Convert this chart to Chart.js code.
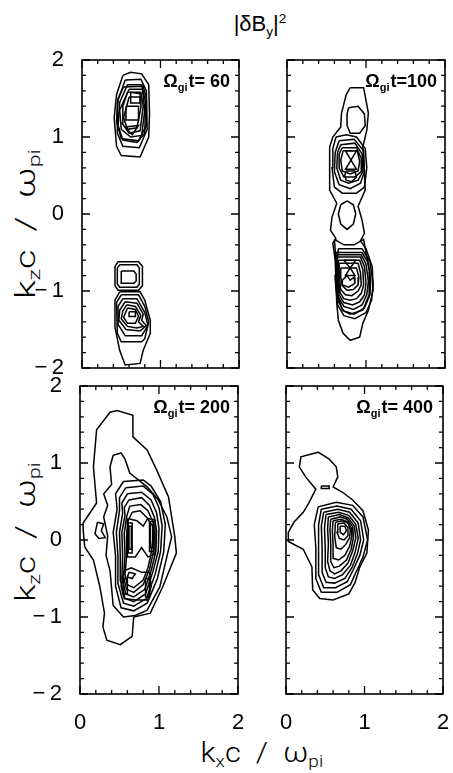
<!DOCTYPE html>
<html>
<head>
<meta charset="utf-8">
<script src="https://cdn.jsdelivr.net/npm/chart.js@4"></script>
<style>
  body { margin: 0; background: #fff; width: 453px; height: 773px; position: relative; overflow: hidden; font-family: "Liberation Sans", Arial, sans-serif; color: #000; }
  canvas { position: absolute; }
  .t { position: absolute; white-space: nowrap; line-height: 1; }
  .sub { font-size: 0.62em; vertical-align: -0.32em; }
  .sup { font-size: 0.62em; vertical-align: 0.62em; }
  .axt { font-size: 27px; font-family: Roboto, "Liberation Sans", sans-serif; font-weight: 300; }
</style>
</head>
<body>
<div class="t" style="left:260px;top:25px;transform:translate(-50%,-50%);font-size:22px">|δB<span class="sub">y</span>|<span class="sup">2</span></div>
<div class="t axt" data-cx="28" data-cy="224" data-len="150" data-rot="1">k<span class="sub">z</span>c&nbsp;&nbsp;/&nbsp;&nbsp;ω<span class="sub">pi</span></div>
<div class="t axt" data-cx="28" data-cy="532" data-len="140" data-rot="1">k<span class="sub">z</span>c&nbsp;&nbsp;/&nbsp;&nbsp;ω<span class="sub">pi</span></div>
<div class="t axt" data-cx="262" data-cy="755" data-len="123" data-rot="0">k<span class="sub">x</span>c&nbsp;&nbsp;/&nbsp;&nbsp;ω<span class="sub">pi</span></div>

<canvas id="p60"></canvas>
<canvas id="p100"></canvas>
<canvas id="p200"></canvas>
<canvas id="p400"></canvas>

<script>
// axis ticks (k c / omega_pi)
const xMajorTicks = [0, 1, 2];
const yMajorTicks = [-2, -1, 0, 1, 2];
const xMinorTicks = [0.2, 0.4, 0.6, 0.8, 1.2, 1.4, 1.6, 1.8];
const yMinorTicks = [-1.8, -1.6, -1.4, -1.2, -0.8, -0.6, -0.4, -0.2, 0.2, 0.4, 0.6, 0.8, 1.2, 1.4, 1.6, 1.8];

const panelTimes = ['= 60', '=100', '= 200', '= 400'];

// contour lines of |dBy|^2, [kx, kz] per vertex
const contours60 = [
  [[0.52,1.80],[0.62,1.84],[0.76,1.82],[0.85,1.68],[0.86,1.30],[0.85,1.0],[0.74,0.74],[0.50,0.76],[0.44,0.88],[0.41,1.25],[0.44,1.55],[0.52,1.80]],
  [[0.55,1.74],[0.75,1.75],[0.82,1.60],[0.83,1.10],[0.73,0.86],[0.52,0.88],[0.45,1.05],[0.45,1.45],[0.55,1.74]],
  [[0.53,1.65],[0.78,1.66],[0.82,1.50],[0.82,1.15],[0.72,0.95],[0.50,0.98],[0.44,1.20],[0.46,1.50],[0.53,1.65]],
  [[0.58,1.68],[0.76,1.68],[0.81,1.45],[0.80,1.05],[0.70,0.93],[0.52,0.96],[0.46,1.15],[0.48,1.45],[0.58,1.68]],
  [[0.60,1.62],[0.77,1.62],[0.80,1.35],[0.76,1.02],[0.62,1.00],[0.50,1.10],[0.48,1.35],[0.60,1.62]],
  [[0.58,1.58],[0.75,1.58],[0.78,1.40],[0.74,1.08],[0.60,1.05],[0.51,1.18],[0.52,1.40],[0.58,1.58]],
  [[0.60,1.52],[0.74,1.52],[0.75,1.38],[0.70,1.12],[0.58,1.10],[0.53,1.25],[0.60,1.52]],
  [[0.62,1.58],[0.74,1.56],[0.74,1.44],[0.62,1.44],[0.62,1.58]],
  [[0.56,1.40],[0.72,1.40],[0.72,1.22],[0.56,1.22],[0.56,1.40]],
  [[0.55,1.13],[0.72,1.15],[0.64,1.03],[0.55,1.13]],
  [[0.46,-0.62],[0.72,-0.62],[0.77,-0.68],[0.77,-0.93],[0.72,-0.99],[0.46,-0.99],[0.42,-0.93],[0.42,-0.68],[0.46,-0.62]],
  [[0.48,-0.66],[0.70,-0.66],[0.73,-0.70],[0.73,-0.91],[0.70,-0.95],[0.48,-0.95],[0.45,-0.91],[0.45,-0.70],[0.48,-0.66]],
  [[0.50,-0.74],[0.66,-0.74],[0.69,-0.78],[0.69,-0.87],[0.66,-0.90],[0.50,-0.90],[0.50,-0.74]],
  [[0.48,-1.01],[0.74,-1.01],[0.80,-1.12],[0.87,-1.38],[0.87,-1.55],[0.78,-1.77],[0.74,-1.94],[0.55,-1.96],[0.48,-1.77],[0.42,-1.47],[0.42,-1.12],[0.48,-1.01]],
  [[0.50,-1.05],[0.72,-1.05],[0.80,-1.20],[0.85,-1.40],[0.80,-1.62],[0.76,-1.66],[0.50,-1.66],[0.45,-1.55],[0.44,-1.15],[0.50,-1.05]],
  [[0.52,-1.10],[0.70,-1.10],[0.80,-1.28],[0.84,-1.45],[0.76,-1.58],[0.55,-1.58],[0.47,-1.45],[0.46,-1.20],[0.52,-1.10]],
  [[0.55,-1.14],[0.70,-1.16],[0.78,-1.30],[0.76,-1.38],[0.82,-1.45],[0.74,-1.52],[0.56,-1.50],[0.47,-1.38],[0.48,-1.25],[0.55,-1.14]],
  [[0.57,-1.18],[0.68,-1.20],[0.75,-1.32],[0.72,-1.40],[0.78,-1.46],[0.70,-1.48],[0.58,-1.46],[0.50,-1.36],[0.52,-1.26],[0.57,-1.18]],
  [[0.58,-1.22],[0.68,-1.24],[0.72,-1.33],[0.68,-1.42],[0.58,-1.42],[0.53,-1.34],[0.58,-1.22]],
  [[0.60,-1.27],[0.68,-1.27],[0.68,-1.33],[0.60,-1.33],[0.60,-1.27]]
];

const contours100 = [
  [[0.80,1.64],[0.97,1.64],[1.03,1.31],[1.01,1.09],[0.96,0.87],[0.98,0.55],[0.99,0.31],[0.90,0.10],[0.95,-0.08],[0.98,-0.25],[0.93,-0.35],[1.00,-0.45],[1.08,-0.69],[1.09,-0.99],[1.03,-1.25],[0.96,-1.42],[0.92,-1.60],[0.80,-1.64],[0.71,-1.55],[0.65,-1.38],[0.63,-1.16],[0.61,-0.60],[0.58,-0.38],[0.62,-0.32],[0.55,-0.21],[0.57,-0.04],[0.63,0.14],[0.54,0.31],[0.54,0.87],[0.58,1.00],[0.68,1.13],[0.69,1.31],[0.75,1.55],[0.80,1.64]],
  [[0.78,1.38],[0.90,1.40],[0.98,1.30],[0.99,1.15],[0.92,1.05],[0.80,1.05],[0.76,1.15],[0.76,1.30],[0.78,1.38]],
  [[0.62,1.00],[0.75,1.03],[0.88,1.00],[0.99,0.85],[1.01,0.60],[0.98,0.35],[0.88,0.27],[0.70,0.27],[0.60,0.35],[0.57,0.60],[0.58,0.85],[0.62,1.00]],
  [[0.66,0.95],[0.85,0.97],[0.97,0.82],[0.98,0.55],[0.93,0.40],[0.80,0.33],[0.66,0.38],[0.60,0.55],[0.61,0.80],[0.66,0.95]],
  [[0.68,0.90],[0.86,0.92],[0.95,0.78],[0.96,0.55],[0.90,0.44],[0.78,0.40],[0.68,0.44],[0.63,0.60],[0.64,0.80],[0.68,0.90]],
  [[0.70,0.86],[0.88,0.86],[0.94,0.72],[0.94,0.55],[0.86,0.48],[0.72,0.48],[0.66,0.60],[0.66,0.78],[0.70,0.86]],
  [[0.71,0.82],[0.89,0.82],[0.92,0.68],[0.90,0.56],[0.80,0.52],[0.70,0.56],[0.68,0.70],[0.71,0.82]],
  [[0.74,0.82],[0.88,0.82],[0.81,0.70],[0.74,0.82]],
  [[0.81,0.70],[0.88,0.58],[0.74,0.58],[0.81,0.70]],
  [[0.75,0.56],[0.86,0.56],[0.88,0.48],[0.82,0.42],[0.75,0.44],[0.73,0.50],[0.75,0.56]],
  [[0.76,0.17],[0.84,0.12],[0.87,0.0],[0.84,-0.13],[0.76,-0.20],[0.68,-0.13],[0.65,0.0],[0.68,0.12],[0.76,0.17]],
  [[0.60,-0.33],[0.72,-0.40],[0.85,-0.40],[0.97,-0.33],[1.00,-0.50],[1.05,-0.75],[1.04,-1.05],[0.96,-1.25],[0.80,-1.30],[0.70,-1.25],[0.64,-1.05],[0.62,-0.60],[0.60,-0.33]],
  [[0.65,-0.45],[0.95,-0.45],[1.05,-0.62],[1.09,-0.90],[1.07,-1.12],[1.00,-1.28],[0.86,-1.36],[0.72,-1.32],[0.64,-1.18],[0.61,-0.85],[0.65,-0.45]],
  [[0.62,-0.50],[0.95,-0.50],[1.02,-0.62],[1.06,-0.85],[1.05,-1.05],[0.98,-1.22],[0.85,-1.30],[0.72,-1.26],[0.64,-1.12],[0.61,-0.80],[0.62,-0.50]],
  [[0.63,-0.53],[0.94,-0.53],[1.00,-0.65],[1.03,-0.88],[1.01,-1.05],[0.95,-1.18],[0.84,-1.24],[0.72,-1.20],[0.65,-1.08],[0.63,-0.80],[0.63,-0.53]],
  [[0.64,-0.56],[0.93,-0.56],[0.98,-0.68],[1.00,-0.90],[0.98,-1.05],[0.92,-1.14],[0.83,-1.18],[0.72,-1.15],[0.66,-1.05],[0.64,-0.80],[0.64,-0.56]],
  [[0.65,-0.60],[0.92,-0.60],[0.96,-0.72],[0.97,-0.92],[0.94,-1.03],[0.88,-1.10],[0.80,-1.12],[0.72,-1.10],[0.67,-1.02],[0.65,-0.80],[0.65,-0.60]],
  [[0.66,-0.64],[0.90,-0.64],[0.93,-0.76],[0.94,-0.92],[0.90,-1.00],[0.82,-1.06],[0.74,-1.05],[0.68,-0.98],[0.66,-0.80],[0.66,-0.64]],
  [[0.68,-0.70],[0.88,-0.70],[0.91,-0.82],[0.90,-0.92],[0.84,-0.98],[0.76,-0.99],[0.70,-0.93],[0.68,-0.82],[0.68,-0.70]],
  [[0.72,-0.60],[0.87,-0.60],[0.80,-0.70],[0.72,-0.60]],
  [[0.80,-0.70],[0.86,-0.80],[0.74,-0.80],[0.80,-0.70]],
  [[0.70,-0.86],[0.76,-0.80],[0.80,-0.86],[0.85,-0.82],[0.86,-0.90],[0.78,-0.95],[0.70,-0.92],[0.70,-0.86]]
];

const contours200 = [
  [[1.12,0.56],[1.20,0.04],[1.22,-0.17],[1.05,-0.60],[0.89,-0.95],[0.68,-1.00],[0.66,-1.25],[0.51,-1.36],[0.34,-1.30],[0.29,-1.13],[0.31,-0.95],[0.25,-0.60],[0.17,-0.26],[0.06,-0.09],[0.04,0.13],[0.04,0.22],[0.21,0.48],[0.17,0.95],[0.21,1.43],[0.38,1.66],[0.47,1.68],[0.67,1.62],[0.67,1.34],[0.85,1.17],[0.97,0.91],[1.12,0.56]],
  [[0.42,1.10],[0.52,1.13],[0.57,1.05],[0.63,0.87],[0.85,0.69],[0.99,0.52],[1.10,0.30],[1.16,0.04],[1.11,-0.17],[1.01,-0.61],[0.85,-0.91],[0.70,-0.98],[0.55,-1.00],[0.42,-0.85],[0.38,-0.40],[0.33,-0.20],[0.35,0.05],[0.30,0.30],[0.35,0.45],[0.30,0.60],[0.40,0.72],[0.38,0.95],[0.42,1.10]],
  [[0.22,0.23],[0.30,0.21],[0.27,0.12],[0.32,0.03],[0.24,0.02],[0.19,0.08],[0.22,0.23]],
  [[0.55,0.76],[0.80,0.78],[0.90,0.70],[1.02,0.50],[1.08,0.20],[1.06,-0.15],[0.98,-0.50],[0.85,-0.82],[0.68,-0.92],[0.52,-0.88],[0.45,-0.60],[0.45,-0.20],[0.42,0.10],[0.47,0.40],[0.45,0.60],[0.55,0.76]],
  [[0.58,0.68],[0.80,0.70],[0.92,0.60],[1.00,0.42],[1.04,0.18],[1.02,-0.15],[0.95,-0.45],[0.84,-0.76],[0.68,-0.86],[0.55,-0.82],[0.48,-0.56],[0.48,-0.20],[0.46,0.10],[0.50,0.38],[0.50,0.55],[0.58,0.68]],
  [[0.60,0.60],[0.78,0.62],[0.90,0.52],[0.97,0.35],[1.00,0.15],[0.99,-0.15],[0.92,-0.42],[0.83,-0.70],[0.68,-0.80],[0.57,-0.76],[0.51,-0.52],[0.51,-0.20],[0.50,0.10],[0.54,0.35],[0.53,0.48],[0.60,0.60]],
  [[0.62,0.52],[0.78,0.55],[0.88,0.45],[0.94,0.30],[0.97,0.12],[0.96,-0.15],[0.90,-0.40],[0.82,-0.64],[0.68,-0.74],[0.58,-0.70],[0.53,-0.50],[0.54,-0.20],[0.53,0.10],[0.57,0.32],[0.56,0.42],[0.62,0.52]],
  [[0.63,0.44],[0.77,0.46],[0.86,0.38],[0.93,0.22],[0.94,0.05],[0.93,-0.15],[0.88,-0.38],[0.80,-0.58],[0.68,-0.68],[0.59,-0.64],[0.55,-0.48],[0.57,-0.20],[0.56,0.08],[0.59,0.30],[0.63,0.44]],
  [[0.66,0.36],[0.76,0.38],[0.84,0.30],[0.92,0.18],[0.92,0.0],[0.90,-0.18],[0.86,-0.36],[0.80,-0.52],[0.68,-0.62],[0.60,-0.58],[0.57,-0.45],[0.59,-0.20],[0.59,0.05],[0.61,0.25],[0.66,0.36]],
  [[0.60,0.28],[0.72,0.25],[0.80,0.18],[0.86,0.28],[0.95,0.26],[0.95,-0.18],[0.86,-0.22],[0.78,-0.10],[0.70,-0.22],[0.60,-0.22],[0.60,0.28]],
  [[0.61,0.22],[0.66,0.22],[0.66,-0.17],[0.61,-0.17],[0.61,0.22]],
  [[0.62,0.18],[0.65,0.18],[0.65,-0.12],[0.62,-0.12],[0.62,0.18]],
  [[0.88,0.24],[0.93,0.24],[0.93,-0.15],[0.88,-0.15],[0.88,0.24]],
  [[0.89,0.20],[0.92,0.20],[0.92,-0.10],[0.89,-0.10],[0.89,0.20]],
  [[0.56,-0.40],[0.65,-0.36],[0.78,-0.42],[0.88,-0.42],[0.90,-0.60],[0.86,-0.78],[0.70,-0.78],[0.56,-0.76],[0.52,-0.60],[0.56,-0.40]],
  [[0.55,-0.50],[0.60,-0.50],[0.60,-0.70],[0.55,-0.70],[0.55,-0.50]],
  [[0.83,-0.50],[0.88,-0.50],[0.88,-0.74],[0.83,-0.74],[0.83,-0.50]],
  [[0.62,-0.42],[0.70,-0.44],[0.66,-0.50],[0.60,-0.48],[0.62,-0.42]]
];

const contours400 = [
  [[0.41,1.14],[0.55,1.05],[0.64,0.95],[0.66,0.82],[0.60,0.69],[0.72,0.62],[0.85,0.52],[0.98,0.38],[1.05,0.13],[1.03,-0.17],[0.94,-0.35],[0.88,-0.55],[0.80,-0.70],[0.60,-0.78],[0.43,-0.76],[0.34,-0.65],[0.33,-0.35],[0.22,-0.12],[0.03,-0.02],[0.03,0.10],[0.10,0.23],[0.22,0.36],[0.29,0.48],[0.38,0.66],[0.25,0.82],[0.17,0.95],[0.19,1.08],[0.41,1.14]],
  [[0.45,0.70],[0.55,0.70],[0.55,0.67],[0.45,0.67],[0.45,0.70]],
  [[0.41,0.43],[0.64,0.49],[0.85,0.45],[0.98,0.30],[1.04,0.0],[0.98,-0.22],[0.90,-0.40],[0.82,-0.58],[0.65,-0.68],[0.45,-0.68],[0.38,-0.50],[0.38,-0.10],[0.36,0.20],[0.41,0.43]],
  [[0.45,0.40],[0.65,0.44],[0.83,0.40],[0.95,0.25],[0.99,0.0],[0.94,-0.20],[0.86,-0.38],[0.78,-0.54],[0.63,-0.62],[0.48,-0.62],[0.42,-0.46],[0.42,-0.10],[0.41,0.20],[0.45,0.40]],
  [[0.48,0.36],[0.66,0.40],[0.81,0.36],[0.92,0.22],[0.95,0.0],[0.91,-0.18],[0.84,-0.36],[0.75,-0.50],[0.62,-0.56],[0.51,-0.55],[0.46,-0.42],[0.46,-0.10],[0.45,0.18],[0.48,0.36]],
  [[0.51,0.33],[0.67,0.36],[0.80,0.32],[0.89,0.20],[0.92,0.02],[0.88,-0.16],[0.82,-0.33],[0.72,-0.45],[0.62,-0.50],[0.54,-0.48],[0.50,-0.36],[0.50,-0.10],[0.49,0.16],[0.51,0.33]],
  [[0.54,0.30],[0.68,0.33],[0.79,0.29],[0.87,0.18],[0.89,0.03],[0.85,-0.14],[0.79,-0.30],[0.70,-0.40],[0.62,-0.44],[0.56,-0.40],[0.53,-0.28],[0.54,-0.05],[0.53,0.15],[0.54,0.30]],
  [[0.57,0.27],[0.69,0.30],[0.78,0.27],[0.85,0.17],[0.86,0.04],[0.83,-0.12],[0.77,-0.26],[0.68,-0.34],[0.61,-0.36],[0.57,-0.28],[0.57,-0.05],[0.56,0.14],[0.57,0.27]],
  [[0.60,0.25],[0.70,0.27],[0.78,0.24],[0.83,0.16],[0.84,0.05],[0.81,-0.08],[0.75,-0.20],[0.67,-0.26],[0.61,-0.24],[0.60,-0.05],[0.59,0.12],[0.60,0.25]],
  [[0.63,0.23],[0.72,0.25],[0.79,0.22],[0.82,0.13],[0.81,0.03],[0.76,-0.06],[0.70,-0.12],[0.64,-0.10],[0.62,0.05],[0.63,0.23]],
  [[0.66,0.21],[0.74,0.22],[0.79,0.16],[0.79,0.06],[0.74,0.0],[0.68,0.02],[0.65,0.10],[0.66,0.21]],
  [[0.69,0.18],[0.75,0.18],[0.77,0.12],[0.73,0.07],[0.69,0.10],[0.69,0.18]]
];

Chart.defaults.font.family = '"Liberation Sans", Arial, sans-serif';
Chart.defaults.color = '#000';

// stretch the axis titles to the width they have in the figure
document.querySelectorAll('.axt').forEach((el) => {
  const s = Number(el.dataset.len) / el.offsetWidth;
  el.style.left = (Number(el.dataset.cx) - el.offsetWidth / 2) + 'px';
  el.style.top = (Number(el.dataset.cy) - el.offsetHeight / 2) + 'px';
  el.style.transform = (el.dataset.rot === '1' ? 'rotate(-90deg) ' : '') + 'scaleX(' + s.toFixed(3) + ')';
});

const frameTicks = {
  id: 'frameTicks',
  afterDatasetsDraw(chart, args, options) {
    const { ctx, chartArea: { left, top, right, bottom }, scales: { x, y } } = chart;
    ctx.save();
    ctx.strokeStyle = '#000';
    ctx.lineWidth = 1.3;
    ctx.beginPath();
    const tickX = (v, len) => {
      const px = x.getPixelForValue(v);
      ctx.moveTo(px, bottom); ctx.lineTo(px, bottom - len);
      ctx.moveTo(px, top); ctx.lineTo(px, top + len);
    };
    const tickY = (v, len) => {
      const py = y.getPixelForValue(v);
      ctx.moveTo(left, py); ctx.lineTo(left + len, py);
      ctx.moveTo(right, py); ctx.lineTo(right - len, py);
    };
    xMajorTicks.forEach((v) => tickX(v, 8));
    xMinorTicks.forEach((v) => tickX(v, 4));
    yMajorTicks.forEach((v) => tickY(v, 8));
    yMinorTicks.forEach((v) => tickY(v, 4));
    ctx.stroke();
    ctx.lineWidth = 1.6;
    ctx.strokeRect(left, top, right - left, bottom - top);

    // panel label: Omega_gi t = ...
    const big = 'bold 18px "Liberation Sans", Arial, sans-serif';
    const small = 'bold 11px "Liberation Sans", Arial, sans-serif';
    ctx.fillStyle = '#000';
    ctx.font = big;
    const wO = ctx.measureText('Ω').width;
    const wT = ctx.measureText('t' + options.time).width;
    ctx.font = small;
    const wS = ctx.measureText('gi').width;
    let tx = right - options.inset - (wO + wS + 1 + wT);
    const base = top + 27;
    ctx.textBaseline = 'alphabetic';
    ctx.font = big;
    ctx.fillText('Ω', tx, base);
    tx += wO;
    ctx.font = small;
    ctx.fillText('gi', tx, base + 4);
    tx += wS + 1;
    ctx.font = big;
    ctx.fillText('t' + options.time, tx, base);
    ctx.restore();
  },
};

const noPadding = (scale) => {
  scale.paddingLeft = 0;
  scale.paddingRight = 0;
  scale.paddingTop = 0;
  scale.paddingBottom = 0;
};

function makePanel(id, rect, rings, time, inset, showX, showY) {
  const padL = 80, padT = 20, padR = 20, padB = 52;
  const canvas = document.getElementById(id);
  const w = rect[2] - rect[0] + padL + padR;
  const h = rect[3] - rect[1] + padT + padB;
  canvas.width = w;
  canvas.height = h;
  canvas.style.left = (rect[0] - padL) + 'px';
  canvas.style.top = (rect[1] - padT) + 'px';

  new Chart(canvas, {
    type: 'scatter',
    data: {
      datasets: rings.map((ring) => ({
        data: ring.map(([kx, kz]) => ({ x: kx, y: kz })),
        showLine: true,
        borderColor: '#000',
        borderWidth: 1.5,
        pointRadius: 0,
        tension: 0,
        fill: false,
      })),
    },
    plugins: [frameTicks],
    options: {
      responsive: false,
      animation: false,
      devicePixelRatio: 1,
      events: [],
      layout: { padding: { left: 0, top: padT, right: padR, bottom: 0 } },
      plugins: {
        legend: { display: false },
        tooltip: { enabled: false },
        frameTicks: { time, inset },
      },
      scales: {
        x: {
          type: 'linear',
          min: 0,
          max: 2,
          afterBuildTicks: (scale) => { scale.ticks = xMajorTicks.map((v) => ({ value: v })); },
          afterFit: (scale) => { scale.height = padB; noPadding(scale); },
          grid: { display: false },
          border: { display: false },
          ticks: { display: showX, font: { size: 22 }, padding: 8 },
        },
        y: {
          type: 'linear',
          min: -2,
          max: 2,
          afterBuildTicks: (scale) => { scale.ticks = yMajorTicks.map((v) => ({ value: v })); },
          afterFit: (scale) => { scale.width = padL; noPadding(scale); },
          grid: { display: false },
          border: { display: false },
          ticks: {
            display: showY,
            font: { size: 22 },
            padding: 10,
            callback: (v) => (v < 0 ? '\u2212\u2009' + Math.abs(v) : String(v)),
          },
        },
      },
    },
  });
}

makePanel('p60', [82, 60, 239, 368], contours60, panelTimes[0], 9, false, true);
makePanel('p100', [287, 60, 445, 368], contours100, panelTimes[1], 8, false, false);
makePanel('p200', [80, 386, 238, 694], contours200, panelTimes[2], 8, true, true);
makePanel('p400', [286, 386, 443, 694], contours400, panelTimes[3], 10, true, false);
</script>
</body>
</html>
